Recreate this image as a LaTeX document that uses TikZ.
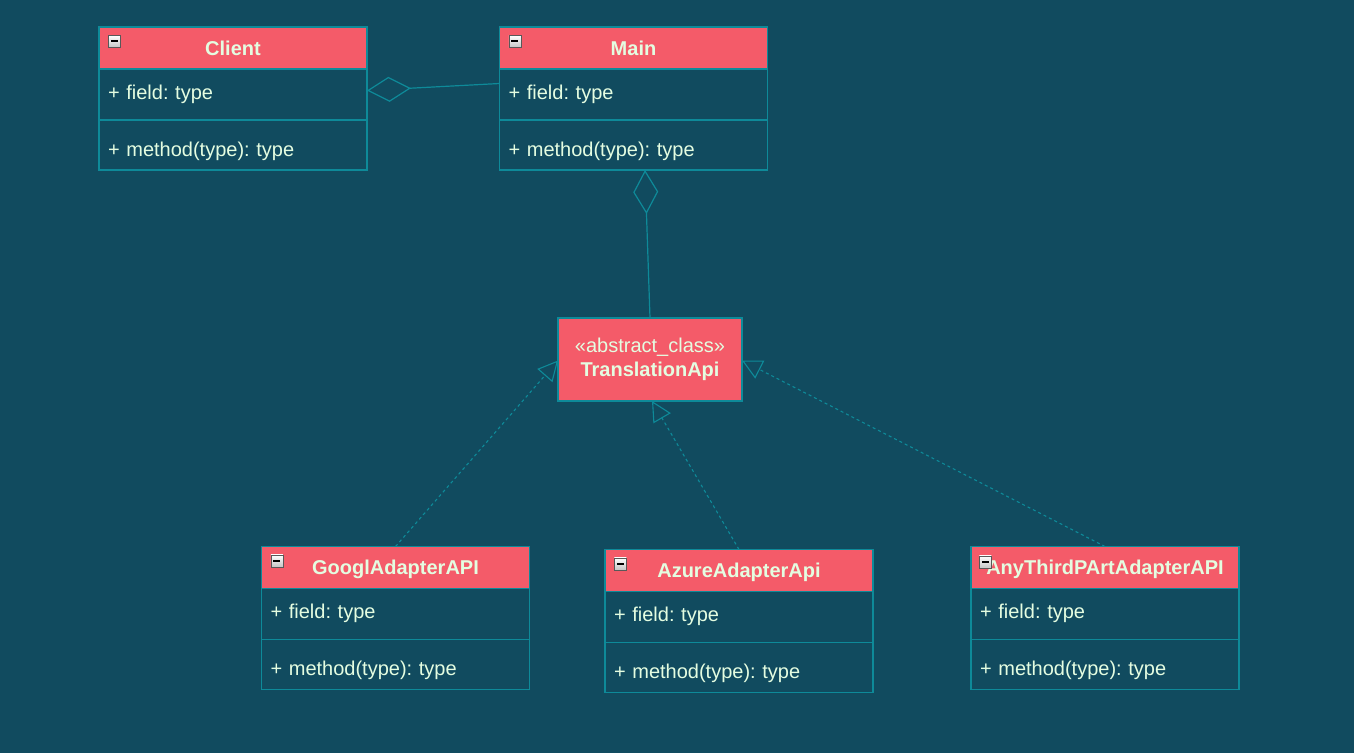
\documentclass[tikz,border=0pt]{standalone}
\usepackage{fontspec}
\setmainfont{Liberation Sans}
\usetikzlibrary{arrows.meta,positioning,calc}
\definecolor{canvas}{HTML}{114B5F}
\definecolor{headfill}{HTML}{F45B69}
\definecolor{edge}{HTML}{0E8A99}
\definecolor{ink}{HTML}{E4FDE1}
\frenchspacing
\tikzset{
  classhead/.style={
    draw=edge,
    line width=1.2pt,
    fill=headfill,
    text=ink,
    font=\fontsize{20}{24}\selectfont\bfseries,
    minimum width=268pt,
    minimum height=42pt,
    text height=14pt,
    text depth=0pt,
    inner sep=0pt,
    outer sep=0pt
  },
  classrow/.style={
    draw=edge,
    line width=1.2pt,
    text=ink,
    align=left,
    text width=250pt,
    inner xsep=9pt,
    inner ysep=0pt,
    outer sep=0pt,
    minimum width=268pt
  },
  fieldrow/.style={
    classrow,
    minimum height=51pt,
    text height=14pt,
    text depth=5pt
  },
  methodrow/.style={
    classrow,
    minimum height=50pt,
    text height=26pt,
    text depth=4pt
  },
  abstractbox/.style={
    draw=edge,
    line width=1.2pt,
    fill=headfill,
    text=ink,
    align=center,
    minimum width=184pt,
    minimum height=83pt,
    inner sep=0pt,
    outer sep=0pt
  },
  minusbox/.style={
    draw=gray!70!black,
    line width=0.6pt,
    top color=white,
    bottom color=gray!45,
    minimum size=12pt,
    inner sep=0pt,
    anchor=north west,
    path picture={
      \draw[black, line width=2pt]
        ([xshift=2.5pt]path picture bounding box.west) --
        ([xshift=-2.5pt]path picture bounding box.east);
    }
  },
  aggregate/.style={
    {Diamond[open, length=44pt, width=25pt]}-,
    draw=edge,
    line width=1.2pt
  },
  realize/.style={
    -{Triangle[open, length=20pt, width=20pt]},
    draw=edge,
    dash pattern=on 3pt off 3pt,
    line width=1.1pt
  }
}

\begin{document}
\begin{tikzpicture}[x=1pt, y=-1pt, font=\fontsize{20}{24}\selectfont]

\fill[canvas] (0,0) rectangle (1354,753);
\useasboundingbox (0,0) rectangle (1354,753);

% ---------------------------------------------------------------------------
% 1. Client and Main
% ---------------------------------------------------------------------------
\node[classhead] (clienthead) at (233,48) {Client};
\node[fieldrow, below=0pt of clienthead] (clientfield) {+ field: type};
\node[methodrow, below=0pt of clientfield] (clientmethod) {+ method(type): type};
\node[minusbox] (clientminus) at ($(clienthead.north west)+(9,8)$) {};

\node[classhead] (mainhead) at (633.5,48) {Main};
\node[fieldrow, below=0pt of mainhead] (mainfield) {+ field: type};
\node[methodrow, below=0pt of mainfield] (mainmethod) {+ method(type): type};
\node[minusbox] (mainminus) at ($(mainhead.north west)+(9,8)$) {};

\draw[aggregate] ([yshift=4pt]clientfield.east) -- ([yshift=11pt]mainfield.west);

% ---------------------------------------------------------------------------
% 2. Abstract translation api
% ---------------------------------------------------------------------------
\node[abstractbox] (translation) at (650,359.5)
  {«abstract\_class»\\\textbf{TranslationApi}};

\draw[aggregate] ([xshift=11.5pt]mainmethod.south) -- (translation.north);

% ---------------------------------------------------------------------------
% 3. Adapters
% ---------------------------------------------------------------------------
\node[classhead] (googlhead) at (395.5,567.5) {GooglAdapterAPI};
\node[fieldrow, below=0pt of googlhead] (googlfield) {+ field: type};
\node[methodrow, below=0pt of googlfield] (googlmethod) {+ method(type): type};
\node[minusbox] (googlminus) at ($(googlhead.north west)+(9,8)$) {};

\node[classhead] (azurehead) at (739,570.5) {AzureAdapterApi};
\node[fieldrow, below=0pt of azurehead] (azurefield) {+ field: type};
\node[methodrow, below=0pt of azurefield] (azuremethod) {+ method(type): type};
\node[minusbox] (azureminus) at ($(azurehead.north west)+(9,8)$) {};

\node[classhead] (anyhead) at (1105,567.5) {AnyThirdPArtAdapterAPI};
\node[fieldrow, below=0pt of anyhead] (anyfield) {+ field: type};
\node[methodrow, below=0pt of anyfield] (anymethod) {+ method(type): type};
\node[minusbox] (anyminus) at ($(anyhead.north west)+(8,9)$) {};

% Realization arrows point at the abstract class.
\draw[realize] (googlhead.north) -- ([yshift=-1pt]translation.west);
\draw[realize] (azurehead.north) -- ([xshift=2pt]translation.south);
\draw[realize] (anyhead.north) -- ([yshift=-1pt]translation.east);

\end{tikzpicture}
\end{document}
